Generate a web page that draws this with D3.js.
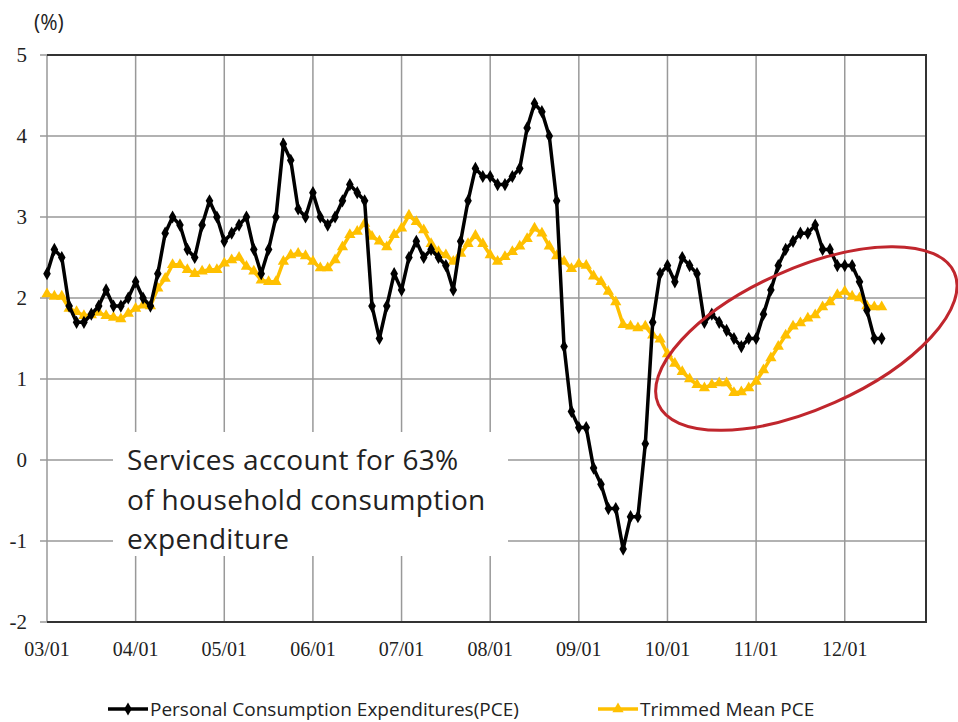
<!DOCTYPE html>
<html>
<head>
<meta charset="utf-8">
<script src="https://cdn.jsdelivr.net/npm/d3@7"></script>
<style>
  body { margin: 0; background: #fff; }
  svg { display: block; }
</style>
</head>
<body>
<svg id="chart"></svg>
<script>
const width = 958;
const height = 722;

// months from 2003/01, index 0 = Jan 2003
const yearLabels = ["03/01", "04/01", "05/01", "06/01", "07/01", "08/01", "09/01", "10/01", "11/01", "12/01"];
const yTicks = [-2, -1, 0, 1, 2, 3, 4, 5];

const pce = [
  2.3, 2.6, 2.5, 1.9, 1.7, 1.7, 1.8, 1.9, 2.1, 1.9, 1.9, 2.0,
  2.2, 2.0, 1.9, 2.3, 2.8, 3.0, 2.9, 2.6, 2.5, 2.9, 3.2, 3.0,
  2.7, 2.8, 2.9, 3.0, 2.6, 2.3, 2.6, 3.0, 3.9, 3.7, 3.1, 3.0,
  3.3, 3.0, 2.9, 3.0, 3.2, 3.4, 3.3, 3.2, 1.9, 1.5, 1.9, 2.3,
  2.1, 2.5, 2.7, 2.5, 2.6, 2.5, 2.4, 2.1, 2.7, 3.2, 3.6, 3.5,
  3.5, 3.4, 3.4, 3.5, 3.6, 4.1, 4.4, 4.3, 4.0, 3.2, 1.4, 0.6,
  0.4, 0.4, -0.1, -0.3, -0.6, -0.6, -1.1, -0.7, -0.7, 0.2, 1.7, 2.3,
  2.4, 2.2, 2.5, 2.4, 2.3, 1.7, 1.8, 1.7, 1.6, 1.5, 1.4, 1.5,
  1.5, 1.8, 2.1, 2.4, 2.6, 2.7, 2.8, 2.8, 2.9, 2.6, 2.6, 2.4,
  2.4, 2.4, 2.2, 1.85, 1.5, 1.5
];

const trimmed = [
  2.05, 2.02, 2.02, 1.87, 1.83, 1.78, 1.79, 1.82, 1.78, 1.76, 1.74, 1.81,
  1.87, 1.91, 1.90, 2.12, 2.24, 2.41, 2.41, 2.35, 2.30, 2.33, 2.35, 2.35,
  2.43, 2.47, 2.50, 2.39, 2.33, 2.22, 2.20, 2.20, 2.45, 2.53, 2.55, 2.52,
  2.45, 2.37, 2.37, 2.47, 2.63, 2.78, 2.82, 2.92, 2.76, 2.70, 2.63, 2.78,
  2.86, 3.02, 2.94, 2.84, 2.67, 2.57, 2.53, 2.45, 2.55, 2.67, 2.77, 2.67,
  2.53, 2.45, 2.51, 2.57, 2.64, 2.73, 2.86, 2.80, 2.64, 2.52, 2.45, 2.36,
  2.42, 2.40, 2.27, 2.20, 2.08, 1.95, 1.67, 1.65, 1.63, 1.65, 1.54, 1.49,
  1.31, 1.19, 1.09, 1.00, 0.93, 0.89, 0.93, 0.95, 0.95, 0.83, 0.84, 0.89,
  0.97, 1.11, 1.26, 1.40, 1.54, 1.65, 1.69, 1.75, 1.79, 1.89, 1.95, 2.04,
  2.08, 2.02, 2.00, 1.90, 1.89, 1.89
];

const seriesNames = ["Personal Consumption Expenditures(PCE)", "Trimmed Mean PCE"];
const noteLines = ["Services account for 63%", "of household consumption", "expenditure"];

const margin = { top: 55, right: 32, bottom: 100, left: 47 };
const plotRight = width - margin.right;
const plotBottom = height - margin.bottom;

const svg = d3.select("#chart").attr("width", width).attr("height", height);

// Set up scales (axis runs through Dec 2012)
const x = d3.scaleLinear().domain([0, 119]).range([margin.left, plotRight]);
const y = d3.scaleLinear().domain([-2, 5]).range([plotBottom, margin.top]);

// Gridlines
const grid = svg.append("g");
grid.selectAll(".hgrid")
  .data(yTicks)
  .enter()
  .append("line")
  .attr("x1", margin.left - 7)
  .attr("x2", plotRight)
  .attr("y1", (d) => y(d))
  .attr("y2", (d) => y(d))
  .attr("stroke", "#999")
  .attr("stroke-width", 1.5);

grid.selectAll(".vgrid")
  .data(yearLabels)
  .enter()
  .append("line")
  .attr("x1", (d, i) => x(i * 12))
  .attr("x2", (d, i) => x(i * 12))
  .attr("y1", margin.top)
  .attr("y2", plotBottom)
  .attr("stroke", "#999")
  .attr("stroke-width", 1.5);

// Frame: top, right, bottom dark
svg.append("path")
  .attr("d", `M${margin.left},${margin.top}H${plotRight}V${plotBottom}H${margin.left}`)
  .attr("fill", "none")
  .attr("stroke", "#333")
  .attr("stroke-width", 2);

// Y-axis labels
svg.selectAll(".ylab")
  .data(yTicks)
  .enter()
  .append("text")
  .attr("x", 27)
  .attr("y", (d) => y(d))
  .attr("dy", "0.35em")
  .attr("text-anchor", "end")
  .attr("font-family", "Liberation Serif, serif")
  .attr("font-size", 21)
  .attr("fill", "#222")
  .text((d) => d);

// X-axis labels
svg.selectAll(".xlab")
  .data(yearLabels)
  .enter()
  .append("text")
  .attr("x", (d, i) => x(i * 12))
  .attr("y", plotBottom + 34)
  .attr("text-anchor", "middle")
  .attr("font-family", "Liberation Serif, serif")
  .attr("font-size", 20)
  .attr("fill", "#222")
  .text((d) => d);

svg.append("text")
  .attr("x", 34)
  .attr("y", 30)
  .attr("font-family", "Open Sans, sans-serif")
  .attr("font-size", 21)
  .attr("fill", "#222")
  .text("(%)");

// Lines
const line = d3.line().x((d, i) => x(i)).y((d) => y(d));
const triangle = d3.symbol().type(d3.symbolTriangle).size(55);
const diamond = d3.symbol().type(d3.symbolDiamond).size(50);

svg.append("path")
  .datum(trimmed)
  .attr("d", line)
  .attr("fill", "none")
  .attr("stroke", "#FFC000")
  .attr("stroke-width", 3.5);

svg.selectAll(".tri")
  .data(trimmed)
  .enter()
  .append("path")
  .attr("d", triangle)
  .attr("transform", (d, i) => `translate(${x(i)},${y(d)})`)
  .attr("fill", "#FFC000");

svg.append("path")
  .datum(pce)
  .attr("d", line)
  .attr("fill", "none")
  .attr("stroke", "#000")
  .attr("stroke-width", 3.5);

svg.selectAll(".dia")
  .data(pce)
  .enter()
  .append("path")
  .attr("d", diamond)
  .attr("transform", (d, i) => `translate(${x(i)},${y(d)})`)
  .attr("fill", "#000");

// Red ellipse around the 2010-2012 slowdown
svg.append("ellipse")
  .attr("cx", x(102.8))
  .attr("cy", y(1.5))
  .attr("rx", 162)
  .attr("ry", 70)
  .attr("transform", `rotate(-24, ${x(102.8)}, ${y(1.5)})`)
  .attr("fill", "none")
  .attr("stroke", "#C0262D")
  .attr("stroke-width", 3);

// Note box
const note = svg.append("g");
note.append("rect")
  .attr("x", 113)
  .attr("y", 432)
  .attr("width", 395)
  .attr("height", 124)
  .attr("fill", "#fff");

note.selectAll("text")
  .data(noteLines)
  .enter()
  .append("text")
  .attr("x", 127)
  .attr("y", (d, i) => 470 + i * 39.5)
  .attr("font-family", "Open Sans, sans-serif")
  .attr("font-size", 28)
  .attr("letter-spacing", 0.3)
  .attr("fill", "#222")
  .text((d) => d);

// Legend
const legend = svg.append("g").attr("transform", "translate(0, 709)");
const legendX = [108, 598];
seriesNames.forEach((name, i) => {
  const g = legend.append("g").attr("transform", `translate(${legendX[i]}, 0)`);
  g.append("line")
    .attr("x1", 0)
    .attr("x2", 40)
    .attr("stroke", i === 0 ? "#000" : "#FFC000")
    .attr("stroke-width", 3.5);
  g.append("path")
    .attr("d", i === 0 ? diamond : triangle)
    .attr("transform", "translate(20,0)")
    .attr("fill", i === 0 ? "#000" : "#FFC000");
  g.append("text")
    .attr("x", 42)
    .attr("dy", "0.35em")
    .attr("font-family", "Open Sans, sans-serif")
    .attr("font-size", 19)
    .attr("fill", "#222")
    .text(name);
});
</script>
</body>
</html>
